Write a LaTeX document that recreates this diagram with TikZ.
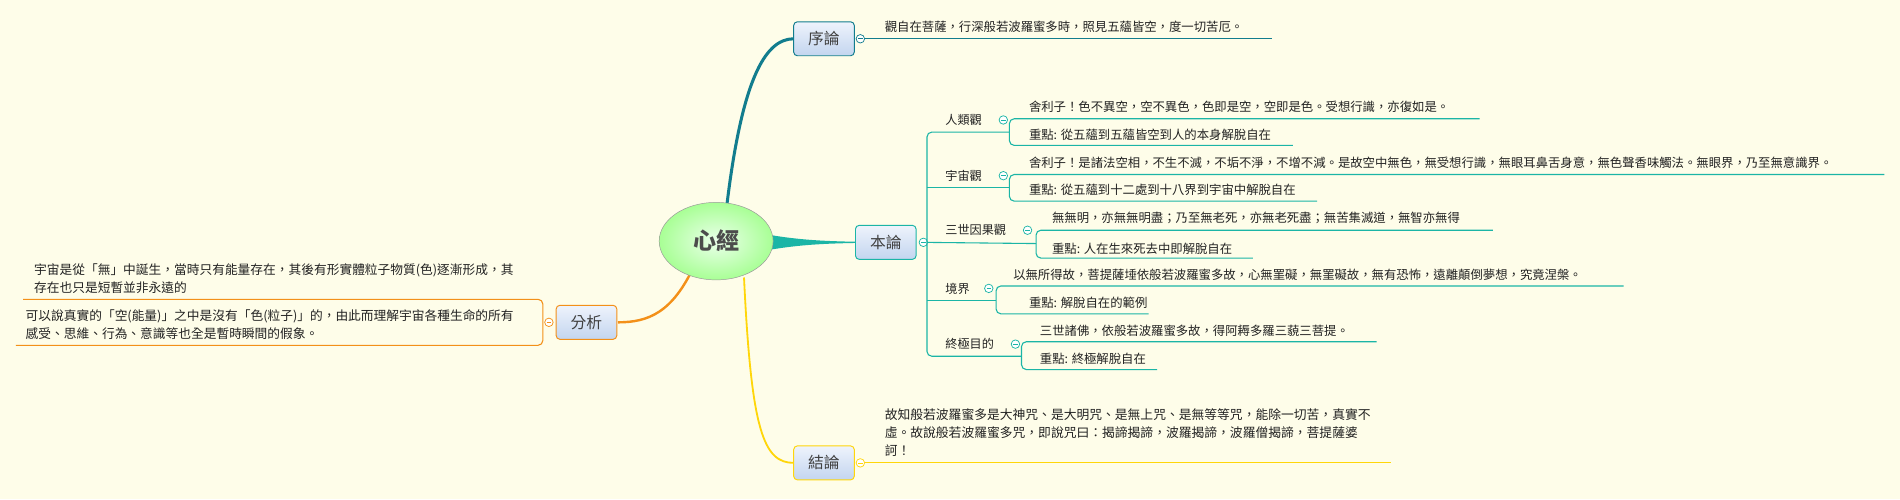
\documentclass[tikz,border=0pt]{standalone}
\usepackage{fontspec}
\setmainfont{Noto Sans CJK TC}
\usetikzlibrary{shapes.geometric}
\definecolor{bg}{HTML}{FEFDE9}
\definecolor{cA}{HTML}{127D8E}
\definecolor{cB}{HTML}{1BB5A6}
\definecolor{cC}{HTML}{F39019}
\definecolor{cD}{HTML}{FFD60A}
\definecolor{txt}{HTML}{222222}
\definecolor{btop}{HTML}{EEF3FC}
\definecolor{bbot}{HTML}{C3D5EF}
\tikzset{
  topic/.style={draw=#1, line width=0.8pt, rounded corners=3pt, top color=btop, bottom color=bbot,
     minimum width=50pt, minimum height=28pt, font=\fontsize{13}{13}\selectfont, text=black!75},
  leaf/.style={anchor=west, inner sep=0pt, font=\fontsize{10.2}{12}\selectfont, text=txt},
  lbl/.style={anchor=west, inner sep=0pt, font=\fontsize{10}{12}\selectfont, text=txt},
  tog/.style={circle, draw=#1, fill=white, inner sep=0pt, minimum size=7pt, line width=0.6pt,
     path picture={\draw[#1, line width=0.5pt] ([xshift=-1.8pt]path picture bounding box.center) -- ([xshift=1.8pt]path picture bounding box.center);}},
  br/.style={draw=cB, line width=0.9pt, rounded corners=4pt}
}
\begin{document}
\begin{tikzpicture}[x=1pt,y=-1pt]
\fill[bg] (0,0) rectangle (1568,412);
\useasboundingbox (0,0) rectangle (1568,412);
% connectors from centre
\draw[cA, line width=2.5pt] (600,168) .. controls (612,70) and (630,32) .. (655,32);
\fill[cB] (636,194) .. controls (660,198) and (680,199) .. (706,199.5) -- (706,200.5) .. controls (680,201) and (660,202) .. (636,206) -- cycle;
\draw[cC, line width=2pt] (573,219) .. controls (555,258) and (535,266) .. (510,266);
\draw[cD, line width=1.5pt] (614,229) .. controls (620,355) and (630,382) .. (655,382);
% centre
\node[ellipse, draw=black!40, inner color=green!8!white, outer color=green!35!white!90!lime, minimum width=94pt, minimum height=64pt,
  font=\fontsize{19}{19}\selectfont\bfseries, text=black!70] (root) at (591,199) {心經};
% 序論
\node[topic=cA] (xu) at (680,32) {序論};
\node[tog=cA] (txu) at (710,32) {};
\draw[cA, line width=0.9pt] (txu) -- (1050,32);
\node[leaf] (xu1) at (730,22) {觀自在菩薩，行深般若波羅蜜多時，照見五蘊皆空，度一切苦厄。};
% 本論
\node[topic=cB] (ben) at (731,200) {本論};
\node[tog=cB] (tben) at (762,200) {};
\draw[br] (833,109) -| (765,294) -- (843,294);
\draw[br] (765,155) -- (833,155);
\draw[br] (tben) -- (855,201);
\draw[br] (765,248) -- (822,248);
% 人類觀
\node[lbl] (r1) at (780,99) {人類觀};
\node[tog=cB] (tr1) at (828,99) {};
\draw[br] (1221,98) -- (833,98) -- (833,120) -- (1067,120);
\node[leaf] (r1a) at (849,88) {舍利子！色不異空，空不異色，色即是空，空即是色。受想行識，亦復如是。};
\node[leaf] (r1b) at (849,111) {重點: 從五蘊到五蘊皆空到人的本身解脫自在};
% 宇宙觀
\node[lbl] (r2) at (780,145) {宇宙觀};
\node[tog=cB] (tr2) at (828,145) {};
\draw[br] (1555,144) -- (833,144) -- (833,166) -- (1087,166);
\node[leaf] (r2a) at (849,134) {舍利子！是諸法空相，不生不滅，不垢不淨，不增不減。是故空中無色，無受想行識，無眼耳鼻舌身意，無色聲香味觸法。無眼界，乃至無意識界。};
\node[leaf] (r2b) at (849,157) {重點: 從五蘊到十二處到十八界到宇宙中解脫自在};
% 三世因果觀
\node[lbl] (r3) at (780,190) {三世因果觀};
\node[tog=cB] (tr3) at (848,190) {};
\draw[br] (1232,190) -- (855,190) -- (855,213) -- (1034,213);
\node[leaf] (r3a) at (868,180) {無無明，亦無無明盡；乃至無老死，亦無老死盡；無苦集滅道，無智亦無得};
\node[leaf] (r3b) at (868,205) {重點: 人在生來死去中即解脫自在};
% 境界
\node[lbl] (r4) at (780,238) {境界};
\node[tog=cB] (tr4) at (816,238) {};
\draw[br] (1340,236) -- (822,236) -- (822,259) -- (948,259);
\node[leaf] (r4a) at (836,227) {以無所得故，菩提薩埵依般若波羅蜜多故，心無罣礙，無罣礙故，無有恐怖，遠離顛倒夢想，究竟涅槃。};
\node[leaf] (r4b) at (849,250) {重點: 解脫自在的範例};
% 終極目的
\node[lbl] (r5) at (780,284) {終極目的};
\node[tog=cB] (tr5) at (838,284) {};
\draw[br] (1136,282) -- (843,282) -- (843,305) -- (955,305);
\node[leaf] (r5a) at (858,273) {三世諸佛，依般若波羅蜜多故，得阿耨多羅三藐三菩提。};
\node[leaf] (r5b) at (858,296) {重點: 終極解脫自在};
% 分析
\node[topic=cC] (fx) at (484,266) {分析};
\node[tog=cC] (tfx) at (453,266) {};
\draw[cC, line width=0.9pt, rounded corners=4pt] (19,247) -- (448,247) -- (448,285) -- (13,285);
\node[leaf, font=\fontsize{10.5}{15}\selectfont, align=left] (fx1) at (28,230) {宇宙是從「無」中誕生，當時只有能量存在，其後有形實體粒子物質(色)逐漸形成，其\\存在也只是短暫並非永遠的};
\node[leaf, font=\fontsize{10.5}{15}\selectfont, align=left] (fx2) at (21,268) {可以說真實的「空(能量)」之中是沒有「色(粒子)」的，由此而理解宇宙各種生命的所有\\感受、思維、行為、意識等也全是暫時瞬間的假象。};
% 結論
\node[topic=cD] (jl) at (680,382) {結論};
\node[tog=cD] (tjl) at (710,382) {};
\draw[cD, line width=0.9pt] (tjl) -- (1148,382);
\node[leaf, font=\fontsize{10.55}{15}\selectfont, align=left] (jl1) at (730,357) {故知般若波羅蜜多是大神咒、是大明咒、是無上咒、是無等等咒，能除一切苦，真實不\\虛。故說般若波羅蜜多咒，即說咒曰：揭諦揭諦，波羅揭諦，波羅僧揭諦，菩提薩婆\\訶！};
\end{tikzpicture}
\end{document}
